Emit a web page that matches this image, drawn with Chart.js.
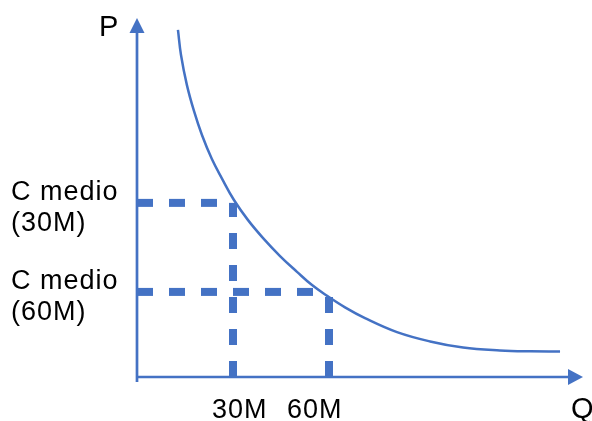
<!DOCTYPE html>
<html>
<head>
<meta charset="utf-8">
<script src="https://cdn.jsdelivr.net/npm/chart.js@4.4.1/dist/chart.umd.min.js"></script>
<style>
  body{margin:0;background:#fff;}
  #wrap{width:592px;height:421px;}
</style>
</head>
<body>
<div id="wrap"><canvas id="costChart" width="592" height="421"></canvas></div>
<script>
// Average cost curve (Q in millions, P in arbitrary units)
const curveQ = [12.8, 13.75, 15.6, 17.8, 20.3, 23.4, 26.6, 30.3, 34.7, 39.4, 44.7, 50, 54.7, 59.4, 65, 71.25, 81.25, 91.6, 101.9, 113.4, 122.8, 132.2];
const curveP = [96.7, 89.7, 81.3, 74.1, 67.4, 60.7, 55.2, 49.3, 43.7, 38.7, 33.7, 29.3, 25.6, 22.6, 19.4, 16.4, 12.5, 9.9, 8.2, 7.4, 7.15, 7.1];

// Reference quantities and their average cost
const qTicks = [30, 60];
const qTickLabels = ["30M", "60M"];
const avgCost = [48.5, 23.7];
const avgCostLabels = [["C medio", "(30M)"], ["C medio", "(60M)"]];

const axisNames = {x: "Q", y: "P"};
const blue = "#4472C4";

let datasets = [];

// curve on top
datasets.push({
    data: curveQ.map((q, i) => ({x: q, y: curveP[i]})),
    borderColor: blue,
    borderWidth: 2.5,
    pointRadius: 0,
    tension: 0.4,
    clip: false
});

// dashed guide lines
qTicks.forEach((q, i) => {
    datasets.push({
        data: [{x: 0, y: avgCost[i]}, {x: q, y: avgCost[i]}],
        borderColor: blue, borderWidth: 8, borderDash: [16, 16],
        borderCapStyle: "butt", pointRadius: 0, clip: false
    });
    datasets.push({
        data: [{x: q, y: 0}, {x: q, y: avgCost[i]}],
        borderColor: blue, borderWidth: 8, borderDash: [16, 16],
        borderCapStyle: "butt", pointRadius: 0, clip: false
    });
});

// Axes with arrows, drawn from the scales
const axesPlugin = {
    id: "axesArrows",
    beforeDatasetsDraw(chart){
        const ctx = chart.ctx;
        const xs = chart.scales.x, ys = chart.scales.y;
        let x0 = xs.getPixelForValue(0), y0 = ys.getPixelForValue(0);
        let xEnd = xs.getPixelForValue(xs.max) - 2, yEnd = ys.getPixelForValue(ys.max);
        ctx.save();
        ctx.strokeStyle = blue; ctx.fillStyle = blue; ctx.lineWidth = 2.7;
        ctx.beginPath();
        ctx.moveTo(x0, y0 + 5); ctx.lineTo(x0, yEnd + 14);
        ctx.moveTo(x0, y0); ctx.lineTo(xEnd - 14, y0);
        ctx.stroke();
        // y arrow
        ctx.beginPath();
        ctx.moveTo(x0, yEnd); ctx.lineTo(x0 - 7.5, yEnd + 15); ctx.lineTo(x0 + 7.5, yEnd + 15); ctx.closePath();
        ctx.fill();
        // x arrow
        ctx.beginPath();
        ctx.moveTo(xEnd, y0); ctx.lineTo(xEnd - 15, y0 - 8); ctx.lineTo(xEnd - 15, y0 + 8); ctx.closePath();
        ctx.fill();
        ctx.restore();
    },
    afterDraw(chart){
        const ctx = chart.ctx;
        const xs = chart.scales.x, ys = chart.scales.y;
        ctx.save();
        ctx.fillStyle = "#000";
        ctx.textAlign = "left";
        ctx.textBaseline = "alphabetic";
        ctx.letterSpacing = "1px";
        ctx.font = "27px 'Liberation Sans', Arial, sans-serif";
        // x labels
        let offs = [-21, -42];
        qTicks.forEach((q, i) => {
            ctx.fillText(qTickLabels[i], xs.getPixelForValue(q) + offs[i], 418);
        });
        // y labels
        avgCost.forEach((p, i) => {
            let py = ys.getPixelForValue(p);
            ctx.fillText(avgCostLabels[i][0], 11, py - 3);
            ctx.fillText(avgCostLabels[i][1], 11, py + 28);
        });
        ctx.letterSpacing = "0px";
        ctx.font = "29px 'Liberation Sans', Arial, sans-serif";
        ctx.fillText(axisNames.y, 99, 36);
        ctx.fillText(axisNames.x, 571, 418);
        ctx.restore();
    }
};

new Chart(document.getElementById("costChart").getContext("2d"), {
    type: "line",
    data: {datasets: datasets},
    options: {
        responsive: false,
        animation: false,
        layout: {padding: {left: 137, right: 7, top: 18, bottom: 44}},
        plugins: {legend: {display: false}, tooltip: {enabled: false}},
        scales: {
            x: {type: "linear", min: 0, max: 140, display: false},
            y: {type: "linear", min: 0, max: 100, display: false}
        }
    },
    plugins: [axesPlugin]
});
</script>
</body>
</html>
